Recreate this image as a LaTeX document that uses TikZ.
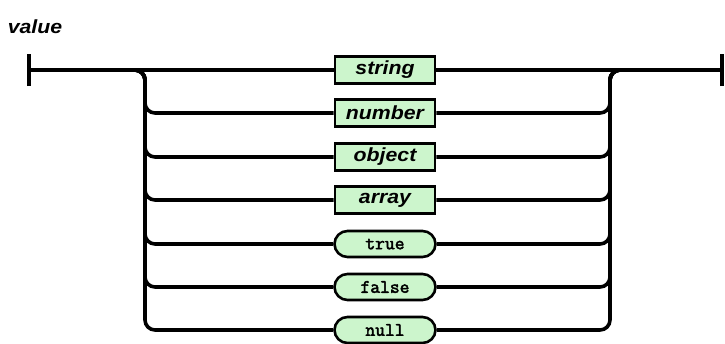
\documentclass[tikz,border=0pt]{standalone}
\usepackage{fontspec}
\setmainfont{Liberation Sans}
\newfontfamily\widesans[FakeStretch=1.12]{Liberation Sans}
\newfontfamily\monof[FakeBold=2.5]{Latin Modern Mono}
\definecolor{boxgreen}{HTML}{CCF5CC}
\begin{document}
\begin{tikzpicture}[x=1pt,y=-1pt,
  rail/.style={line width=3.6pt,line join=round},
  railr/.style={rail,rounded corners=10pt},
  ntbox/.style={draw,line width=2.6pt,fill=boxgreen,minimum width=100pt,minimum height=27pt,inner sep=0pt,font=\widesans\fontsize{19}{19}\selectfont\bfseries\itshape},
  tbox/.style={draw,line width=2.6pt,fill=boxgreen,minimum width=101pt,minimum height=26pt,inner sep=0pt,rounded corners=13pt,font=\monof\fontsize{19}{19}\selectfont}]
\useasboundingbox (0,0) rectangle (725,343);
\node[font=\widesans\fontsize{19}{19}\selectfont\bfseries\itshape] (title) at (35,27) {value};
\coordinate (start) at (29,70);
\coordinate (endp) at (722,70);
\coordinate (ls) at (135,70);
\coordinate (re) at (620,70);
\node[ntbox] (s) at (385,70) {string};
\node[ntbox] (n) at (385,113) {number};
\node[ntbox] (o) at (385,157) {object};
\node[ntbox] (a) at (385,200) {array};
\node[tbox] (t) at (385,244) {true};
\node[tbox] (f) at (385,287) {false};
\node[tbox] (nl) at (385,330) {null};
% end bars
\draw[rail] ([yshift=-16pt]start) -- ([yshift=16pt]start);
\draw[rail] ([yshift=-16pt]endp) -- ([yshift=16pt]endp);
% main line
\draw[rail] (start) -- (s.west);
\draw[rail] (s.east) -- (endp);
% branches
\foreach \b in {n,o,a,t,f,nl}{
  \draw[railr] (ls) -- (145,70) |- (\b.west);
  \draw[railr] (\b.east) -| (610,70) -- (re);
}
\end{tikzpicture}
\end{document}
